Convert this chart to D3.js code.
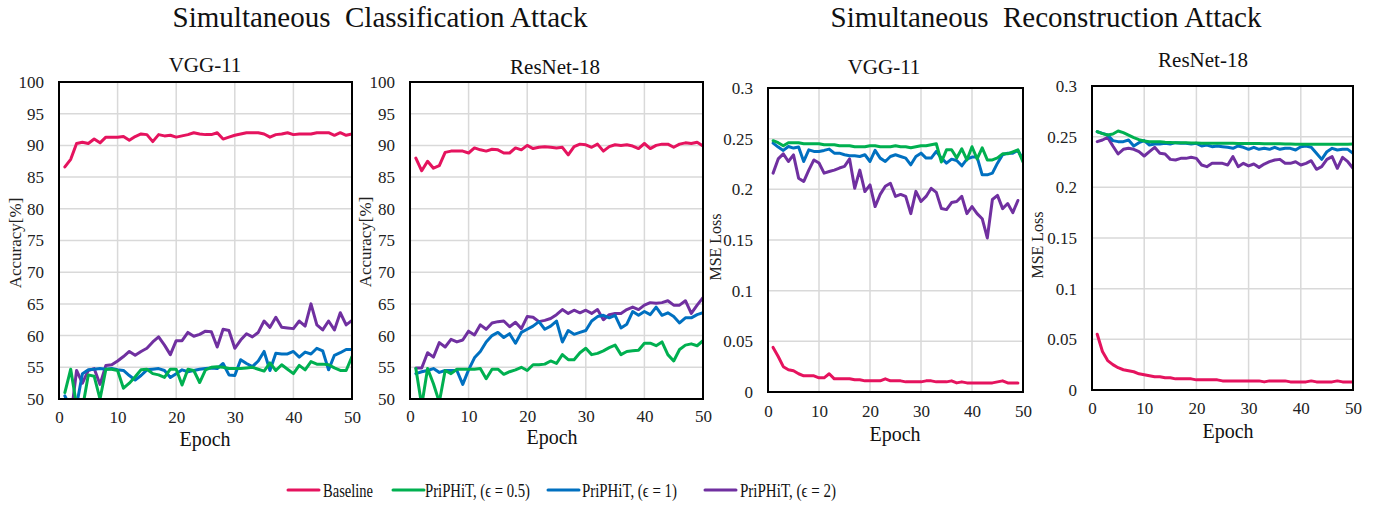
<!DOCTYPE html>
<html><head><meta charset="utf-8">
<script src="https://cdn.jsdelivr.net/npm/d3@7"></script>
<style>
html,body{margin:0;padding:0;background:#fff;}
svg{display:block;font-family:"Liberation Serif","Times New Roman",serif;}
</style></head>
<body><svg id="c" width="1385" height="508"></svg>
<script>
// ---------- DATA ----------
const epochs = d3.range(1, 51);
const xTicks = [0, 10, 20, 30, 40, 50];
const accTicks = [50, 55, 60, 65, 70, 75, 80, 85, 90, 95, 100];
const mseTicks = [0, 0.05, 0.1, 0.15, 0.2, 0.25, 0.3];
const seriesNames = ["Baseline", "PriPHiT, (\u03F5 = 0.5)", "PriPHiT, (\u03F5 = 1)", "PriPHiT, (\u03F5 = 2)"];
const groupTitles = ["Simultaneous  Classification Attack", "Simultaneous  Reconstruction Attack"];
const panelTitles = ["VGG-11", "ResNet-18", "VGG-11", "ResNet-18"];

// Classification, VGG-11 (accuracy %)
const clsVggBaseline = [86.6,87.8,90.3,90.5,90.3,91.0,90.4,91.3,91.3,91.3,
  91.4,90.8,91.4,91.8,91.7,90.6,91.7,91.5,91.6,91.3,
  91.5,91.7,92.0,91.8,91.7,91.7,92.0,91.0,91.3,91.6,
  91.8,92.0,92.0,92.0,91.8,91.3,91.7,91.8,92.0,91.7,
  91.8,91.8,91.8,92.0,92.0,92.0,91.6,92.0,91.6,91.8];
const clsVggEps05 = [51.0,54.7,49.0,48.5,53.8,53.6,50.0,54.7,54.7,54.5,
  51.7,52.5,53.5,54.6,54.7,54.0,53.8,53.4,54.7,54.7,
  52.2,54.7,54.5,52.6,54.6,55.0,55.1,55.0,54.8,54.8,
  54.8,54.9,55.0,54.7,54.4,55.7,54.5,55.4,54.7,54.0,
  55.3,54.6,55.9,55.5,55.5,55.4,54.9,54.5,54.5,56.7];
const clsVggEps1 = [50.5,48.5,49.0,54.0,54.6,54.7,54.8,54.7,54.8,54.6,
  54.5,53.7,53.0,53.7,54.6,54.7,54.8,54.5,53.4,54.0,
  54.6,54.3,54.5,54.7,54.8,54.9,54.8,55.6,53.8,53.7,
  56.2,55.6,55.1,56.0,57.5,54.5,57.2,57.1,57.1,57.5,
  56.6,57.4,57.1,58.0,57.6,54.6,56.9,57.3,57.8,57.8];
const clsVggEps2 = [47.5,47.0,54.5,52.5,54.5,54.8,52.3,55.3,55.4,56.0,
  56.7,57.5,56.9,57.5,58.0,59.0,59.8,58.5,57.0,59.2,
  59.2,60.5,59.9,60.2,60.7,60.6,58.2,61.0,60.8,58.0,
  59.3,60.3,59.8,60.5,62.3,61.3,62.9,61.3,61.2,61.1,
  62.3,61.5,65.0,61.7,60.9,62.3,60.9,63.6,61.7,62.4];

// Classification, ResNet-18 (accuracy %)
const clsResBaseline = [88.0,86.0,87.5,86.4,86.8,88.9,89.1,89.1,89.1,88.8,
  89.6,89.3,89.1,89.4,89.3,88.8,88.8,89.6,89.3,90.0,
  89.5,89.7,89.8,89.7,89.6,89.7,88.5,89.8,90.2,90.1,
  89.7,90.2,89.1,89.8,90.1,90.0,90.1,89.9,89.5,90.3,
  89.5,90.0,90.2,90.2,89.7,90.2,90.4,90.3,90.5,89.9];
const clsResEps05 = [54.8,49.0,54.8,52.4,49.5,54.5,54.0,54.7,54.7,54.7,
  54.7,54.8,53.2,54.7,54.7,53.9,54.3,54.6,55.0,54.5,
  55.4,55.4,55.5,56.0,55.6,57.0,56.2,56.2,57.3,58.0,
  57.0,57.2,57.6,58.1,58.5,57.0,57.5,57.6,57.7,58.8,
  58.8,58.4,59.0,57.0,56.0,57.8,58.5,58.7,58.4,59.2];
const clsResEps1 = [54.0,54.3,54.5,54.8,54.2,54.5,54.5,54.5,52.3,54.6,
  56.5,57.5,59.0,60.0,60.5,59.7,60.3,58.8,60.5,61.0,
  61.5,62.2,61.0,61.5,62.3,59.0,60.8,60.2,60.5,60.8,
  62.3,63.0,63.2,62.8,63.2,61.2,61.8,63.8,63.2,63.8,
  63.3,64.5,63.2,63.6,63.0,62.0,62.8,62.8,63.3,63.6];
const clsResEps2 = [54.9,54.9,57.3,56.6,58.9,58.2,59.4,59.0,59.3,60.7,
  60.1,61.7,61.0,62.0,62.2,62.3,61.4,62.1,61.1,63.0,
  62.9,62.2,62.4,62.7,63.3,64.1,63.5,64.0,63.6,64.0,
  63.5,64.1,62.5,63.3,63.5,63.5,64.1,64.5,64.1,64.8,
  65.2,65.1,65.2,65.5,64.8,64.8,65.5,63.5,64.8,66.0];

// Reconstruction, VGG-11 (MSE loss)
const recVggBaseline = [0.044,0.035,0.025,0.022,0.021,0.018,0.016,0.016,0.016,0.014,
  0.014,0.018,0.013,0.013,0.013,0.013,0.012,0.012,0.011,0.011,
  0.011,0.011,0.013,0.011,0.011,0.011,0.010,0.010,0.010,0.010,
  0.011,0.011,0.010,0.010,0.010,0.011,0.009,0.010,0.009,0.009,
  0.009,0.009,0.009,0.009,0.010,0.011,0.009,0.009,0.009];
const recVggEps05 = [0.248,0.246,0.243,0.246,0.246,0.246,0.245,0.245,0.245,0.245,
  0.244,0.244,0.244,0.243,0.243,0.243,0.242,0.242,0.242,0.243,
  0.243,0.242,0.242,0.242,0.243,0.242,0.242,0.241,0.242,0.243,
  0.243,0.244,0.245,0.227,0.239,0.239,0.231,0.240,0.229,0.242,
  0.230,0.241,0.229,0.229,0.231,0.235,0.235,0.237,0.239,0.227];
const recVggEps1 = [0.2456,0.2417,0.2384,0.2423,0.2407,0.2417,0.2275,0.239,0.2374,0.2374,
  0.2384,0.2397,0.2357,0.2357,0.2341,0.2331,0.2331,0.2324,0.2341,0.2275,
  0.2384,0.2308,0.2275,0.2324,0.2341,0.2324,0.2308,0.2242,0.2324,0.2357,
  0.2308,0.2308,0.2374,0.2308,0.2258,0.2298,0.2285,0.2232,0.2298,0.2318,
  0.2318,0.2143,0.2143,0.216,0.2258,0.2341,0.2357,0.2357,0.2384,0.2298];
const recVggEps2 = [0.216,0.230,0.235,0.2275,0.234,0.211,0.2077,0.219,0.229,0.226,
  0.216,0.2176,0.219,0.221,0.2226,0.230,0.2011,0.219,0.1978,0.2044,
  0.183,0.195,0.203,0.206,0.193,0.195,0.193,0.176,0.198,0.188,
  0.193,0.201,0.197,0.181,0.180,0.187,0.188,0.193,0.176,0.183,
  0.176,0.171,0.152,0.190,0.194,0.181,0.186,0.177,0.189];

// Reconstruction, ResNet-18 (MSE loss)
const recResBaseline = [0.055,0.038,0.029,0.025,0.022,0.020,0.019,0.018,0.016,0.015,
  0.014,0.013,0.013,0.012,0.012,0.011,0.011,0.011,0.011,0.010,
  0.010,0.010,0.010,0.010,0.009,0.009,0.009,0.009,0.009,0.009,
  0.009,0.009,0.008,0.009,0.009,0.009,0.009,0.008,0.008,0.008,
  0.008,0.009,0.008,0.008,0.008,0.008,0.009,0.008,0.008,0.008];
const recResEps05 = [0.255,0.253,0.2516,0.2526,0.2556,0.254,0.2516,0.249,0.247,0.2457,
  0.245,0.245,0.245,0.2445,0.2443,0.244,0.244,0.244,0.2438,0.2438,
  0.2436,0.2436,0.2435,0.2435,0.2435,0.2434,0.2434,0.2433,0.2433,0.2432,
  0.2432,0.2432,0.2431,0.243,0.243,0.243,0.2428,0.2428,0.2426,0.2424,
  0.2426,0.2426,0.2426,0.2426,0.2426,0.2426,0.2426,0.2426,0.2426,0.2428];
const recResEps1 = [0.2549,0.2533,0.2516,0.2461,0.2451,0.2451,0.2467,0.2408,0.2441,0.2461,
  0.2418,0.2428,0.2428,0.2434,0.2428,0.2441,0.2434,0.2434,0.2428,0.2434,
  0.2408,0.2418,0.2401,0.2408,0.2401,0.2395,0.2385,0.2408,0.2395,0.2375,
  0.2395,0.2375,0.2385,0.2375,0.2395,0.2375,0.2385,0.2385,0.2368,0.2401,
  0.2408,0.2395,0.2336,0.2276,0.2352,0.2385,0.2368,0.2375,0.2375,0.2336];
const recResEps2 = [0.2451,0.2467,0.2493,0.2408,0.2329,0.2375,0.2385,0.2375,0.2352,0.2309,
  0.2352,0.2395,0.2336,0.2329,0.2276,0.227,0.2286,0.2286,0.2296,0.2286,
  0.222,0.2204,0.2237,0.2237,0.2237,0.222,0.2303,0.2204,0.2237,0.2211,
  0.223,0.2197,0.223,0.2253,0.227,0.2276,0.2237,0.2237,0.2253,0.222,
  0.2237,0.2263,0.2178,0.2204,0.2276,0.2303,0.2188,0.2296,0.2253,0.2188];

// ---------- STYLE / LAYOUT ----------
const colors = ["#E5135E", "#00B050", "#0070C0", "#7030A0"];
const FONT = '"Liberation Serif","Times New Roman",serif';
const svg = d3.select("#c");

const panels = [
  {box:[59,352,82,399], yDomain:[50,100], yTicks:accTicks, yLabel:"Accuracy[%]", ylab:[15,243], title:[205,72], xlab:[205,446], xTickGap:12,
   series:[clsVggBaseline, clsVggEps05, clsVggEps1, clsVggEps2]},
  {box:[410,703,82,399], yDomain:[50,100], yTicks:accTicks, yLabel:"Accuracy[%]", ylab:[365,242], title:[555,74], xlab:[552,444], xTickGap:11,
   series:[clsResBaseline, clsResEps05, clsResEps1, clsResEps2]},
  {box:[768,1023,88,392], yDomain:[0,0.3], yTicks:mseTicks, yLabel:"MSE Loss", ylab:[715,247], title:[884,74], xlab:[895,441], xTickGap:13,
   series:[recVggBaseline, recVggEps05, recVggEps1, recVggEps2]},
  {box:[1092,1353,86,390], yDomain:[0,0.3], yTicks:mseTicks, yLabel:"MSE Loss", ylab:[1037,245], title:[1203,67], xlab:[1228,438], xTickGap:12,
   series:[recResBaseline, recResEps05, recResEps1, recResEps2]}
];

// group titles
[[380,27],[1046,27]].forEach((p,i)=>{
  svg.append("text").attr("x",p[0]).attr("y",p[1]).attr("text-anchor","middle")
    .attr("font-size",29).attr("fill","#111").style("white-space","pre").text(groupTitles[i]);
});

panels.forEach((P, pi) => {
  const [x0,x1,y0,y1] = P.box;
  const x = d3.scaleLinear().domain([0,50]).range([x0,x1]);
  const y = d3.scaleLinear().domain(P.yDomain).range([y1,y0]);
  const g = svg.append("g");

  // gridlines
  g.append("g").selectAll("line").data(P.yTicks).join("line")
    .attr("x1",x0).attr("x2",x1).attr("y1",d=>y(d)).attr("y2",d=>y(d))
    .attr("stroke","#d9d9d9").attr("stroke-width",1.5);
  g.append("g").selectAll("line").data(xTicks).join("line")
    .attr("x1",d=>x(d)).attr("x2",d=>x(d)).attr("y1",y0).attr("y2",y1)
    .attr("stroke","#d9d9d9").attr("stroke-width",1.5);

  // axes (labels only)
  const yAxis = d3.axisLeft(y).tickValues(P.yTicks).tickSize(0).tickPadding(15)
    .tickFormat(d => String(+d.toFixed(2)));
  const ya = g.append("g").attr("transform",`translate(${x0},0)`).call(yAxis);
  const xAxis = d3.axisBottom(x).tickValues(xTicks).tickSize(0).tickPadding(P.xTickGap);
  const xa = g.append("g").attr("transform",`translate(0,${y1})`).call(xAxis);
  [ya, xa].forEach(a => {
    a.attr("font-family", FONT).attr("font-size", 17);
    a.select(".domain").remove();
    a.selectAll("text").attr("fill","#222");
  });

  // clip
  const cid = "clip"+pi;
  svg.append("clipPath").attr("id",cid).append("rect")
    .attr("x",x0).attr("y",y0).attr("width",x1-x0).attr("height",y1-y0);

  const line = d3.line().x((d,i)=>x(epochs[i])).y(d=>y(d));
  const lg = g.append("g").attr("clip-path",`url(#${cid})`);
  [3,2,1,0].forEach(si => {
    lg.append("path").datum(P.series[si]).attr("d",line)
      .attr("fill","none").attr("stroke",colors[si]).attr("stroke-width",3)
      .attr("stroke-linejoin","round").attr("stroke-linecap","round");
  });

  // box
  g.append("rect").attr("x",x0).attr("y",y0).attr("width",x1-x0).attr("height",y1-y0)
    .attr("fill","none").attr("stroke","#000").attr("stroke-width",2);

  // titles/labels
  g.append("text").attr("x",P.title[0]).attr("y",P.title[1]).attr("text-anchor","middle")
    .attr("font-size",21).attr("fill","#111").text(panelTitles[pi]);
  g.append("text").attr("x",P.xlab[0]).attr("y",P.xlab[1]).attr("text-anchor","middle")
    .attr("font-size",20).attr("fill","#111").text("Epoch");
  g.append("text").attr("transform",`translate(${P.ylab[0]},${P.ylab[1]}) rotate(-90)`)
    .attr("text-anchor","middle").attr("dominant-baseline","central")
    .attr("font-size", P.yLabel==="MSE Loss"?16:17).attr("fill","#222").text(P.yLabel);
});

// legend
const legendPos = [[288,323,50],[393,425,105],[548,582,95],[705,740,96]];
const lgG = svg.append("g");
seriesNames.forEach((nm,i) => {
  const [lx, tx, tw] = legendPos[i];
  lgG.append("line").attr("x1",lx).attr("x2",lx+31).attr("y1",490).attr("y2",490)
    .attr("stroke",colors[i]).attr("stroke-width",3).attr("stroke-linecap","round");
  lgG.append("text").attr("x",tx).attr("y",497).attr("font-size",19).attr("fill","#111")
    .attr("textLength",tw).attr("lengthAdjust","spacingAndGlyphs").text(nm);
});
</script></body></html>
